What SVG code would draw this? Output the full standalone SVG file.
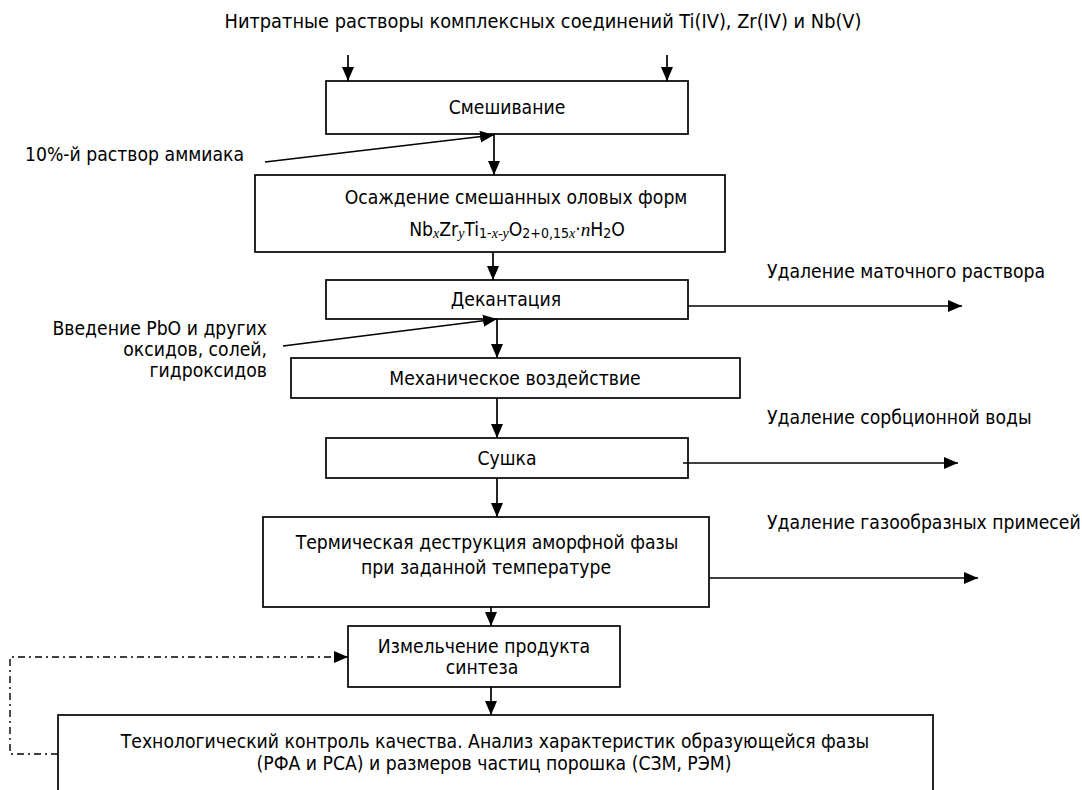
<svg xmlns="http://www.w3.org/2000/svg" width="1082" height="790" viewBox="0 0 1082 790">
<style>
.t{font-family:"DejaVu Sans Condensed","DejaVu Sans",sans-serif;font-size:19.2px;fill:#000;font-stretch:condensed}
.c{text-anchor:middle}
.r{text-anchor:end}
.sub{font-size:14px}
.it{font-family:"Liberation Serif",serif;font-style:italic}
.box{fill:#fff;stroke:#000;stroke-width:1.7}
.ln{fill:none;stroke:#000;stroke-width:1.7}
.dd{fill:none;stroke:#000;stroke-width:1.4;stroke-dasharray:7 4 2 4}
</style>
<defs>
<marker id="ah" markerUnits="userSpaceOnUse" markerWidth="14" markerHeight="12" refX="14" refY="6" orient="auto">
<path d="M0,0 L14,6 L0,12 z" fill="#000"/>
</marker>
</defs>
<text class="t c" x="543" y="28" style="font-size:19.8px">Нитратные растворы комплексных соединений Ti(IV), Zr(IV) и Nb(V)</text>
<text class="t" x="25" y="161">10%-й раствор аммиака</text>
<text class="t" x="767" y="278">Удаление маточного раствора</text>
<text class="t r" x="267" y="335">Введение PbO и других</text>
<text class="t r" x="267" y="356">оксидов, солей,</text>
<text class="t r" x="267" y="377">гидроксидов</text>
<text class="t" x="767" y="424">Удаление сорбционной воды</text>
<text class="t" x="767" y="529">Удаление газообразных примесей</text>
<g id="n1"><rect class="box" x="326" y="81" width="362" height="53"/><text class="t c" x="507" y="114">Смешивание</text></g>
<g id="n2"><rect class="box" x="255" y="175" width="470" height="77"/><text class="t c" x="516" y="204">Осаждение смешанных оловых форм</text>
<text class="t c" x="517" y="236">Nb<tspan class="sub it" dy="2">x</tspan><tspan dy="-2">Zr</tspan><tspan class="sub it" dy="2">y</tspan><tspan dy="-2">Ti</tspan><tspan class="sub" dy="2">1-</tspan><tspan class="sub it">x-y</tspan><tspan dy="-2">O</tspan><tspan class="sub" dy="2">2+0,15</tspan><tspan class="sub it">x</tspan><tspan dy="-2">·</tspan><tspan class="it">n</tspan>H<tspan class="sub" dy="2">2</tspan><tspan dy="-2">O</tspan></text></g>
<g id="n3"><rect class="box" x="326" y="280" width="362" height="39"/><text class="t c" x="506" y="306">Декантация</text></g>
<g id="n4"><rect class="box" x="291" y="358" width="449" height="40"/><text class="t c" x="515" y="385">Механическое воздействие</text></g>
<g id="n5"><rect class="box" x="326" y="438" width="362" height="40"/><text class="t c" x="507" y="465">Сушка</text></g>
<g id="n6"><rect class="box" x="263" y="517" width="446" height="90"/><text class="t c" x="487" y="549">Термическая деструкция аморфной фазы</text><text class="t c" x="486" y="574">при заданной температуре</text></g>
<g id="n7"><rect class="box" x="348" y="626" width="272" height="61"/><text class="t c" x="484" y="653">Измельчение продукта</text><text class="t c" x="482" y="674">синтеза</text></g>
<g id="n8"><rect class="box" x="58" y="715" width="875" height="90"/><text class="t c" x="495" y="748">Технологический контроль качества. Анализ характеристик образующейся фазы</text><text class="t c" x="494" y="770">(РФА и РСА) и размеров частиц порошка (СЗМ, РЭМ)</text></g>
<g id="connectors">
<path class="ln" d="M348,55 V81" marker-end="url(#ah)"/>
<path class="ln" d="M667,55 V81" marker-end="url(#ah)"/>
<path class="ln" d="M265,162 L494,135" marker-end="url(#ah)"/>
<path class="ln" d="M494,134 V175" marker-end="url(#ah)"/>
<path class="ln" d="M493,252 V280" marker-end="url(#ah)"/>
<path class="ln" d="M688,306 H962" marker-end="url(#ah)"/>
<path class="ln" d="M283,346 L497,319" marker-end="url(#ah)"/>
<path class="ln" d="M497,319 V358" marker-end="url(#ah)"/>
<path class="ln" d="M497,398 V438" marker-end="url(#ah)"/>
<path class="ln" d="M683,463 H958" marker-end="url(#ah)"/>
<path class="ln" d="M497,478 V517" marker-end="url(#ah)"/>
<path class="ln" d="M709,578 H978" marker-end="url(#ah)"/>
<path class="ln" d="M491,607 V626" marker-end="url(#ah)"/>
<path class="ln" d="M491,687 V715" marker-end="url(#ah)"/>
<path class="dd" d="M58,754 H10 V657 H348" marker-end="url(#ah)"/>
</g>
</svg>
